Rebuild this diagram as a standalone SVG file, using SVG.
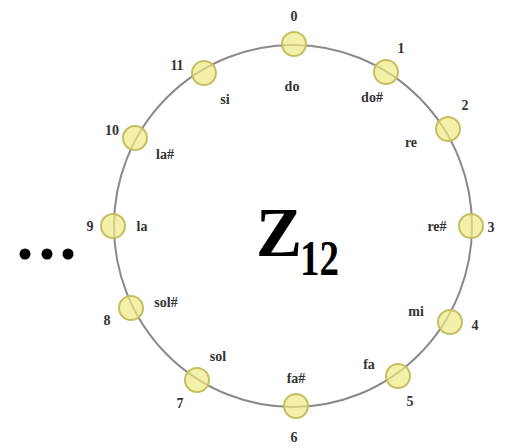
<svg xmlns="http://www.w3.org/2000/svg" width="506" height="448" viewBox="0 0 506 448">
<style>
.ring{fill:none;stroke:#8a8a8a;stroke-width:2}
.node{fill:#eee985;fill-opacity:0.7;stroke:#c6bf62;stroke-width:2}
.lbl{font-family:"Liberation Serif",serif;font-weight:bold;font-size:14px;fill:#333;text-anchor:middle;dominant-baseline:central}
.z{font-family:"Liberation Serif",serif;font-weight:bold;fill:#000}
</style>
<rect width="506" height="448" fill="#fff"/>
<g id="connectors">
<ellipse class="ring" cx="293" cy="226" rx="179" ry="181"/>
</g>
<g id="n0"><circle class="node" cx="294" cy="44" r="12"/><text class="lbl" x="294" y="16">0</text><text class="lbl" x="292" y="86">do</text></g>
<g id="n1"><circle class="node" cx="386" cy="72" r="12"/><text class="lbl" x="401" y="48">1</text><text class="lbl" x="372" y="97">do#</text></g>
<g id="n2"><circle class="node" cx="448" cy="129" r="12"/><text class="lbl" x="465" y="105">2</text><text class="lbl" x="411" y="142">re</text></g>
<g id="n3"><circle class="node" cx="471" cy="226" r="12"/><text class="lbl" x="491" y="227">3</text><text class="lbl" x="437" y="226">re#</text></g>
<g id="n4"><circle class="node" cx="450" cy="322" r="12"/><text class="lbl" x="475" y="325">4</text><text class="lbl" x="416" y="311">mi</text></g>
<g id="n5"><circle class="node" cx="398" cy="376" r="12"/><text class="lbl" x="410" y="401">5</text><text class="lbl" x="369" y="364">fa</text></g>
<g id="n6"><circle class="node" cx="296" cy="406" r="12"/><text class="lbl" x="294" y="437">6</text><text class="lbl" x="296" y="378">fa#</text></g>
<g id="n7"><circle class="node" cx="197" cy="380" r="12"/><text class="lbl" x="180" y="403">7</text><text class="lbl" x="218" y="356">sol</text></g>
<g id="n8"><circle class="node" cx="131" cy="308" r="12"/><text class="lbl" x="107" y="320">8</text><text class="lbl" x="166" y="302">sol#</text></g>
<g id="n9"><circle class="node" cx="113" cy="226" r="12"/><text class="lbl" x="90" y="226">9</text><text class="lbl" x="142" y="226">la</text></g>
<g id="n10"><circle class="node" cx="135" cy="138" r="12"/><text class="lbl" x="112" y="130">10</text><text class="lbl" x="165" y="154">la#</text></g>
<g id="n11"><circle class="node" cx="204" cy="73" r="12"/><text class="lbl" x="177" y="65">11</text><text class="lbl" x="225" y="99">si</text></g>
<g id="ellipsis"><circle cx="25" cy="254" r="5.5"/><circle cx="47" cy="254" r="5.5"/><circle cx="68" cy="254" r="5.5"/></g>
<g id="title"><text class="z" x="256" y="256" font-size="69">Z</text><text class="z" transform="translate(300,275) scale(0.78,1)" font-size="50">12</text></g>
</svg>
